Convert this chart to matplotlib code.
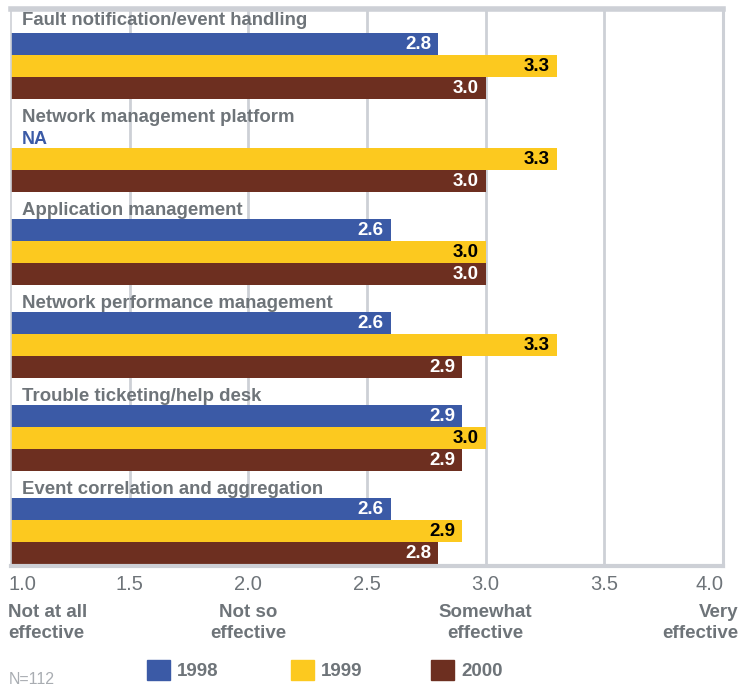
import matplotlib
matplotlib.use("Agg")
import matplotlib.pyplot as plt
from matplotlib.patches import Rectangle
import numpy as np

plt.rcParams['font.family'] = ['Liberation Sans', 'DejaVu Sans']

categories = [
    "Fault notification/event handling",
    "Network management platform",
    "Application management",
    "Network performance management",
    "Trouble ticketing/help desk",
    "Event correlation and aggregation",
]
years = ["1998", "1999", "2000"]
scores_1998 = [2.8, None, 2.6, 2.6, 2.9, 2.6]
scores_1999 = [3.3, 3.3, 3.0, 3.3, 3.0, 2.9]
scores_2000 = [3.0, 3.0, 3.0, 2.9, 2.9, 2.8]
tick_values = [1.0, 1.5, 2.0, 2.5, 3.0, 3.5, 4.0]
scale_labels = {1.0: "Not at all\neffective", 2.0: "Not so\neffective",
                3.0: "Somewhat\neffective", 4.0: "Very\neffective"}
sample_note = "N=112"

colors = ["#3b5aa6", "#fcc91f", "#6d2f20"]
label_colors = ["white", "black", "white"]
gray = "#6e7479"
frame = "#cdd0d6"

W, H = 739, 685
fig = plt.figure(figsize=(W / 100, H / 100), dpi=100)
ax_l, ax_r, ax_t, ax_b = 11, 723, 9, 566
ax = fig.add_axes([ax_l / W, 1 - ax_b / H, (ax_r - ax_l) / W, (ax_b - ax_t) / H])

# y units: one bar = 1 unit (22 px)
bar_px = 22.0
pitch = 93.0 / bar_px
first_top = (33 - ax_t) / bar_px
total = (ax_b - ax_t) / bar_px
ax.set_xlim(1.0, 4.0)
ax.set_ylim(total, 0)

series = [scores_1998, scores_1999, scores_2000]
for g, cat in enumerate(categories):
    top = first_top + g * pitch
    lift = 0.55 if g == 0 else 0.40
    ax.text(1.0 + 11 / 237.3, top - lift, cat, fontsize=13.4, fontweight="bold",
            color=gray, va="center", ha="left")
    for s, vals in enumerate(series):
        v = vals[g]
        yc = top + s + 0.5
        if v is None:
            ax.text(1.0 + 11 / 237.3, yc + 0.12, "NA", fontsize=13, fontweight="bold",
                    color=colors[0], va="center", ha="left")
            continue
        ax.barh(yc, v - 1.0, left=1.0, height=1.0, color=colors[s], zorder=2)
        ax.text(v - 7 / 237.3, yc + 0.02, f"{v:.1f}", fontsize=13.5, fontweight="bold",
                color=label_colors[s], va="center", ha="right", zorder=3)

for t in tick_values[1:-1]:
    ax.axvline(t, color=frame, lw=2, zorder=1)

ax.set_xticks([])
ax.set_yticks([])
for side, lw in (("left", 1.2), ("top", 4), ("right", 2.2), ("bottom", 3)):
    ax.spines[side].set_color(frame)
    ax.spines[side].set_linewidth(lw)

# tick values and scale descriptions below the axis
def px(x, y):
    return x / W, 1 - y / H

for t in tick_values:
    xp = ax_l + (t - 1.0) / 3.0 * (ax_r - ax_l)
    if t == 1.0:
        ha, xpt = "left", ax_l - 2
    elif t == 4.0:
        ha, xpt = "right", ax_r + 1
    else:
        ha, xpt = "center", xp
    fig.text(*px(xpt, 585), f"{t:.1f}", fontsize=14.5, color=gray, ha=ha, va="center")
    if t in scale_labels:
        if t == 1.0:
            ha2, xl = "left", 8
        elif t == 4.0:
            ha2, xl = "right", 738
        else:
            ha2, xl = "center", xp
        fig.text(*px(xl, 623), scale_labels[t], fontsize=13.5, fontweight="bold",
                 color=gray, ha=ha2, va="center", linespacing=1.3)

# legend
legend_x = [147, 291, 431]
for i, yr in enumerate(years):
    x0 = legend_x[i]
    fig.patches.append(Rectangle(px(x0, 680), 23 / W, 20 / H, transform=fig.transFigure,
                                 color=colors[i], figure=fig))
    fig.text(*px(x0 + 30, 672), yr, fontsize=13.5, fontweight="bold", color=gray,
             ha="left", va="center")

fig.text(*px(9, 679), sample_note, fontsize=11.5, color="#a9adb2", ha="left", va="center")

fig.savefig("out.png", dpi=100)
